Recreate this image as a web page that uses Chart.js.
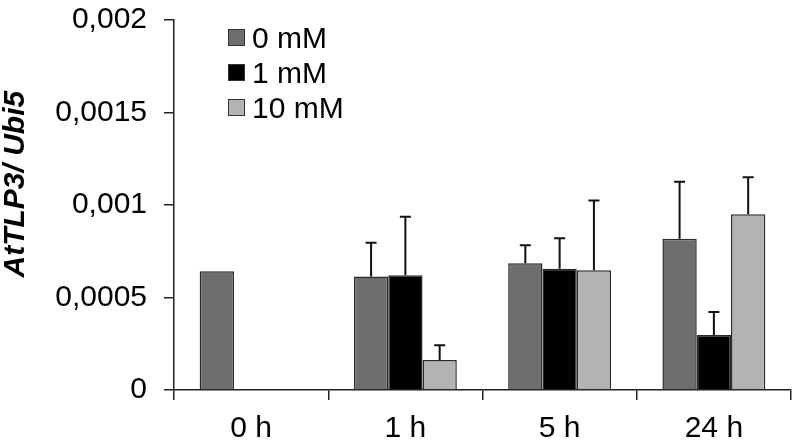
<!DOCTYPE html>
<html>
<head>
<meta charset="utf-8">
<script src="https://cdn.jsdelivr.net/npm/chart.js@4.4.0/dist/chart.umd.min.js"></script>
<style>
  body { margin: 0; background: #fff; }
  #wrap { position: relative; width: 797px; height: 442px; }
  #legend { position: absolute; left: 228px; top: 20px; font: 30px "Liberation Sans", Arial, sans-serif; color: #000; }
  .row { display: flex; align-items: center; height: 35px; }
  .sw { width: 15px; height: 15px; border: 1px solid #333; margin-right: 7px; }
</style>
</head>
<body>
<div id="wrap">
  <canvas id="myChart" width="797" height="442"></canvas>
  <div id="legend"></div>
</div>
<script>
var labels = ['0 h', '1 h', '5 h', '24 h'];
var yTickLabels = ['0', '0,0005', '0,001', '0,0015', '0,002'];
var seriesNames = ['0 mM', '1 mM', '10 mM'];
var colors = ['#6e6e6e', '#000000', '#b3b3b3'];

var mM0 = [0.000642, 0.000613, 0.000685, 0.000818];
var mM1 = [null, 0.00062, 0.000656, 0.000297];
var mM10 = [null, 0.000162, 0.000647, 0.00095];

// SD, only drawn upwards
var sd0 = [null, 0.000183, 0.000097, 0.000308];
var sd1 = [null, 0.000317, 0.000164, 0.000125];
var sd10 = [null, 0.00008, 0.000378, 0.0002];

var values = [mM0, mM1, mM10];
var sds = [sd0, sd1, sd10];

const errorBars = {
  id: 'errorBars',
  afterDatasetsDraw(chart) {
    const ctx = chart.ctx;
    const yScale = chart.scales.y;
    chart.data.datasets.forEach((ds, i) => {
      const meta = chart.getDatasetMeta(i);
      meta.data.forEach((bar, j) => {
        const v = ds.data[j];
        const s = sds[i][j];
        if (v == null || s == null) return;
        const yTop = yScale.getPixelForValue(v + s);
        ctx.save();
        ctx.strokeStyle = '#111';
        ctx.lineWidth = 2;
        ctx.beginPath();
        ctx.moveTo(bar.x, bar.y);
        ctx.lineTo(bar.x, yTop);
        ctx.moveTo(bar.x - 5.5, yTop);
        ctx.lineTo(bar.x + 5.5, yTop);
        ctx.stroke();
        ctx.restore();
      });
    });
  }
};

var datasets = values.map(function (d, i) {
  return {
    label: seriesNames[i],
    data: d,
    backgroundColor: colors[i],
    borderColor: '#2a2a2a',
    borderWidth: 1.5,
    barPercentage: 1,
    categoryPercentage: 0.667
  };
});

var ctx1 = document.getElementById('myChart').getContext('2d');
var chart = new Chart(ctx1, {
  type: 'bar',
  data: { labels: labels, datasets: datasets },
  plugins: [errorBars],
  options: {
    responsive: false,
    animation: false,
    layout: { padding: { top: 20, right: 6, left: 0, bottom: 0 } },
    plugins: { legend: { display: false }, tooltip: { enabled: false } },
    scales: {
      x: {
        afterFit: function (scale) { scale.height = 52; scale.paddingLeft = 0; scale.paddingRight = 0; },
        grid: { offset: true, drawOnChartArea: false, color: '#222', lineWidth: 1.5, tickLength: 10 },
        border: { color: '#222', width: 1.5 },
        ticks: { color: '#000', padding: 11, font: { family: 'Liberation Sans', size: 30 } }
      },
      y: {
        min: 0,
        max: 0.002,
        afterFit: function (scale) { scale.width = 174; scale.paddingTop = 0; scale.paddingBottom = 0; },
        grid: { drawOnChartArea: false, color: '#222', lineWidth: 1.5, tickLength: 10 },
        border: { color: '#222', width: 1.5 },
        ticks: {
          stepSize: 0.0005,
          color: '#000',
          padding: 17,
          font: { family: 'Liberation Sans', size: 30 },
          callback: function (value, index) { return yTickLabels[index]; }
        },
        title: {
          display: true,
          text: '     AtTLP3/ Ubi5',
          color: '#000',
          padding: { top: 1, bottom: 0 },
          font: { family: 'Liberation Sans', size: 30, weight: 'bold', style: 'italic', lineHeight: 1 }
        }
      }
    }
  }
});

var legend = document.getElementById('legend');
seriesNames.forEach(function (name, i) {
  var row = document.createElement('div');
  row.className = 'row';
  row.innerHTML = '<span class="sw" style="background:' + colors[i] + '"></span><span>' + name + '</span>';
  legend.appendChild(row);
});
</script>
</body>
</html>
